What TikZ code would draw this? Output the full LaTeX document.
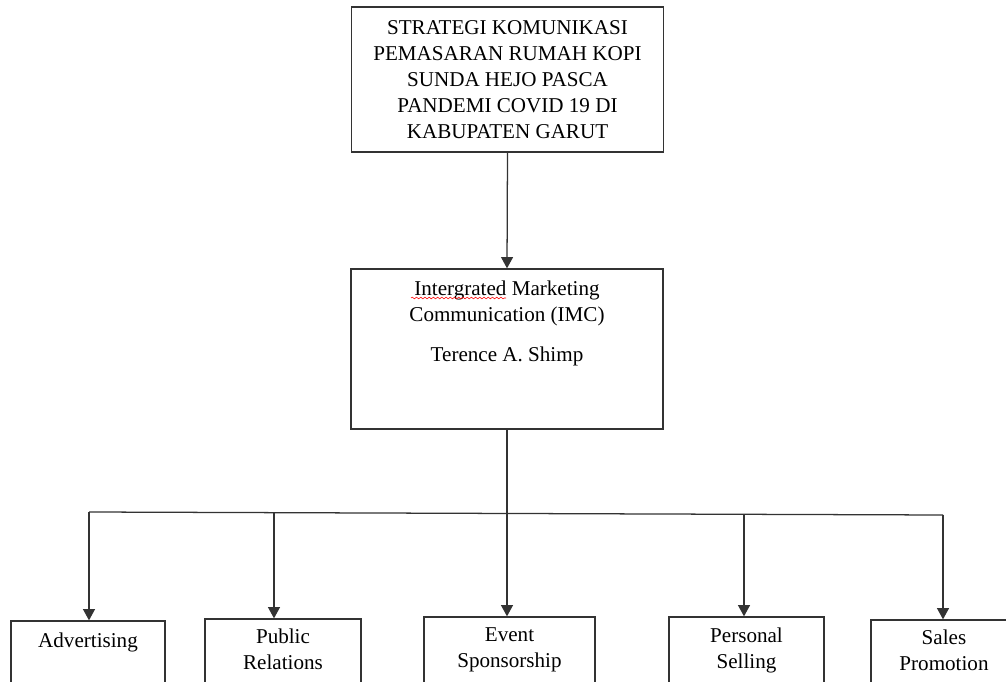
\documentclass[tikz,border=0pt]{standalone}
\usepackage{fontspec}
\setmainfont{Liberation Serif}
\usetikzlibrary{arrows.meta, positioning, decorations.pathmorphing}

\begin{document}
\begin{tikzpicture}[
		x=0.025cm, y=-0.025cm,
		box/.style={draw=black!80, line width=0.9pt, minimum width=7.8cm, align=center, font=\fontsize{15}{18.5}\selectfont},
		leafbox/.style={draw=black!80, line width=0.9pt, minimum height=2.5cm, minimum width=#1},
		leaftext/.style={align=center, inner sep=0pt, font=\fontsize{15}{18.5}\selectfont},
		arrow/.style={-{Triangle[length=8pt, width=8.5pt]}, line width=0.9pt, black!80},
		line/.style={line width=0.9pt, black!80}
	]
		\useasboundingbox (0, 0) rectangle (1006, 682);
		\clip (0, 0) rectangle (1006, 682);

		\node[box, minimum height=3.625cm] (strategi) at (507.5, 79.5) {STRATEGI KOMUNIKASI\\PEMASARAN RUMAH KOPI\\SUNDA HEJO PASCA\\PANDEMI COVID 19 DI\\KABUPATEN GARUT};
		\node[box, minimum height=4cm] (imc) at (507, 349) {};
		\node[leaftext, below=0.31cm of imc.north] (imctext) {Intergrated Marketing\\Communication (IMC)\\[10pt]Terence A. Shimp};
		\draw[red, decorate, decoration={snake, amplitude=0.6pt, segment length=3pt}] (411, 298) -- (506, 298);

		\node[leafbox=3.85cm] (adv) at (88, 671) {};
		\node[leafbox=3.9cm] (pr) at (283, 669) {};
		\node[leafbox=4.275cm] (event) at (509.5, 667) {};
		\node[leafbox=3.875cm] (ps) at (746.5, 667) {};
		\node[leafbox=3.65cm] (sp) at (944, 670) {};

		\node[leaftext, below=0.3cm of adv.north] (advtext) {Advertising};
		\node[leaftext, below=0.25cm of pr.north] (prtext) {Public\\Relations};
		\node[leaftext, below=0.28cm of event.north] (eventtext) {Event\\Sponsorship};
		\node[leaftext, below=0.28cm of ps.north] (pstext) {Personal\\Selling};
		\node[leaftext, below=0.25cm of sp.north] (sptext) {Sales\\Promotion};

		\coordinate (busL) at (89, 512);
		\coordinate (busPR) at (274, 512.5);
		\coordinate (busPS) at (744, 514);
		\coordinate (busR) at (943, 515);

		\draw[arrow] (strategi.south) -- (imc.north);
		\draw[arrow] (imc.south) -- (imc.south |- event.north);
		\draw[line] (busL) -- (busR);
		\draw[arrow] (busL) -- (busL |- adv.north);
		\draw[arrow] (busPR) -- (busPR |- pr.north);
		\draw[arrow] (busPS) -- (busPS |- ps.north);
		\draw[arrow] (busR) -- (busR |- sp.north);
	\end{tikzpicture}
\end{document}
